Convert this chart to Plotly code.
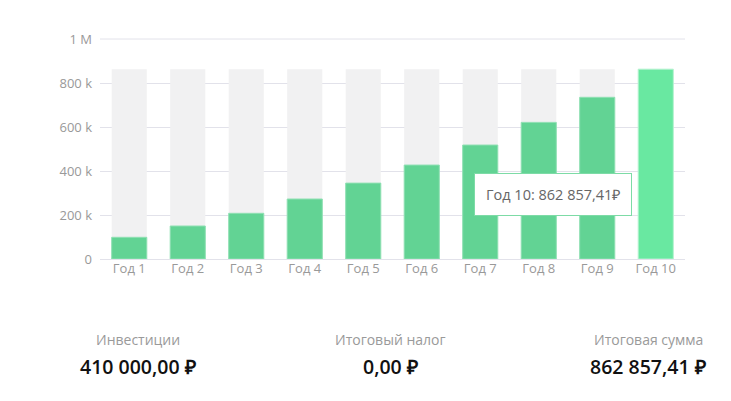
import plotly.graph_objects as go

categories = ["Год 1", "Год 2", "Год 3", "Год 4", "Год 5", "Год 6", "Год 7", "Год 8", "Год 9", "Год 10"]
values = [98600, 150000, 207700, 272700, 345000, 427000, 518000, 621000, 735000, 862857.41]
max_value = 862857.41
tick_vals = [0, 200000, 400000, 600000, 800000, 1000000]
tick_text = ["0", "200 k", "400 k", "600 k", "800 k", "1 M"]
summary_labels = ["Инвестиции", "Итоговый налог", "Итоговая сумма"]
summary_values = ["410 000,00 ₽", "0,00 ₽", "862 857,41 ₽"]
tooltip_text = "Год 10: 862 857,41₽"

green = "#62d394"
green_hi = "#69e8a1"
grid = "#e2e2ea"
bar_colors = [green] * (len(values) - 1) + [green_hi]
line_colors = ["#8fe0b3"] * (len(values) - 1) + ["#b5f3d0"]

fig = go.Figure()
fig.add_trace(go.Bar(x=categories, y=[max_value] * len(categories),
                     marker=dict(color="#f1f1f2", line=dict(width=0)),
                     width=0.6, hoverinfo="skip", showlegend=False))
fig.add_trace(go.Bar(x=categories, y=values,
                     marker=dict(color=bar_colors, line=dict(color=line_colors, width=1)),
                     width=0.6, showlegend=False))

# plot area: top 38px, height 221px (covers 0 .. 1.0045 M)
ph = 221.0
def py(pixel_y):
    return (259 - pixel_y) / ph

annotations = []
xs = [0.065, 0.497, 0.937]
for x, lab, val in zip(xs, summary_labels, summary_values):
    annotations.append(dict(x=x, y=py(339), xref="paper", yref="paper", text=lab,
                            showarrow=False, xanchor="center", yanchor="middle",
                            font=dict(family="Open Sans", size=14, color="#9a9a9a")))
    annotations.append(dict(x=x, y=py(366), xref="paper", yref="paper", text=val,
                            showarrow=False, xanchor="center", yanchor="middle",
                            font=dict(family="Open Sans", size=19.5, color="#111111", weight=600)))
annotations.append(dict(x=0.775, y=py(194.5), xref="paper", yref="paper", text=tooltip_text,
                        showarrow=False, xanchor="center", yanchor="middle",
                        bgcolor="white", bordercolor="#7ddba6", borderwidth=1, borderpad=11,
                        font=dict(family="Open Sans", size=14.5, color="#666666")))

fig.add_shape(type="line", xref="paper", yref="y", x0=0, x1=1,
              y0=tick_vals[-1], y1=tick_vals[-1], line=dict(color=grid, width=1), layer="below")

fig.update_layout(
    width=731, height=401,
    margin=dict(l=100, r=46, t=38, b=142),
    paper_bgcolor="white", plot_bgcolor="white",
    barmode="overlay", bargap=0.4,
    font=dict(family="Open Sans", size=13, color="#999999"),
    annotations=annotations,
    xaxis=dict(showgrid=False, showline=False, zeroline=False, ticks="",
               tickfont=dict(size=13, color="#999999"), fixedrange=True),
    yaxis=dict(range=[0, 1000000 * ph / 220], tickvals=tick_vals, ticktext=tick_text,
               showgrid=True, gridcolor=grid, gridwidth=1,
               zeroline=True, zerolinecolor=grid, zerolinewidth=1,
               showline=False, ticks="", ticklabelstandoff=7,
               tickfont=dict(size=13, color="#999999"), fixedrange=True),
)

fig.write_html("out.html")
